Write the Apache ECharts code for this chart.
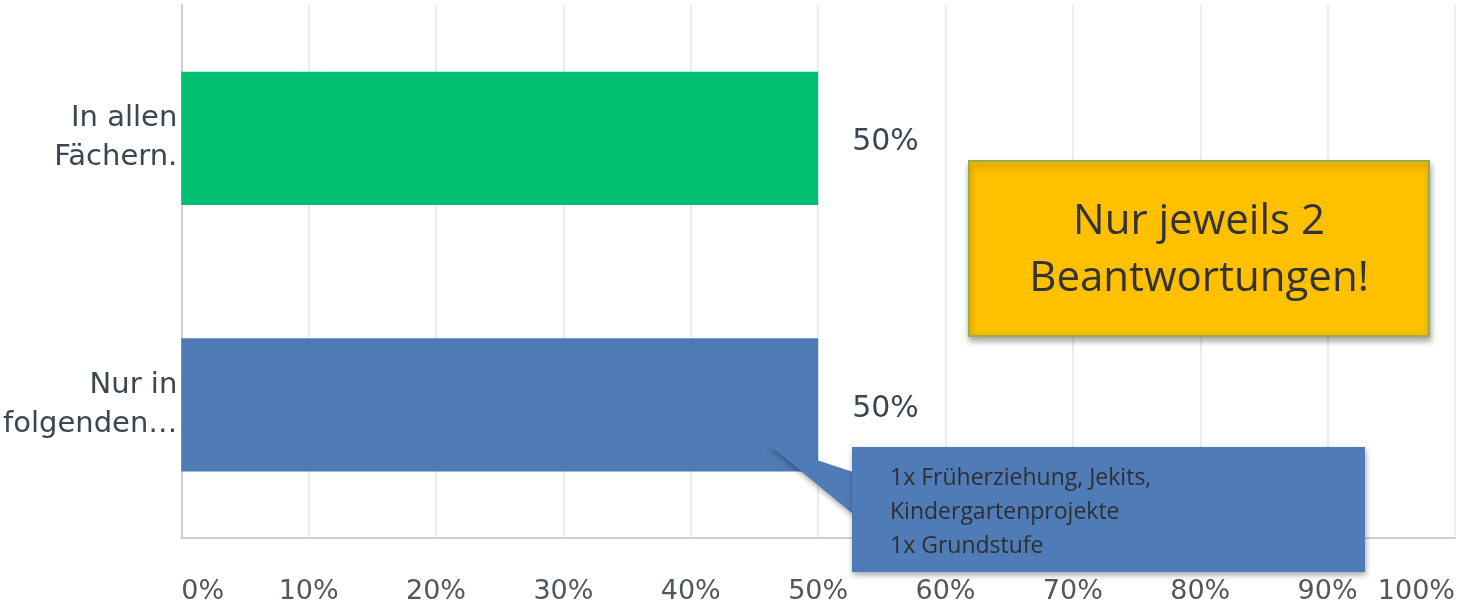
<!DOCTYPE html>
<html>
<head>
<meta charset="utf-8">
<script src="https://cdn.jsdelivr.net/npm/echarts@6/dist/echarts.min.js"></script>
<style>
html,body{margin:0;padding:0;background:#fff;}
#chart{width:1475px;height:605px;}
</style>
</head>
<body>
<div id="chart"></div>
<script>
const categories = ['In allen\nFächern.', 'Nur in\nfolgenden…'];
const values = [50, 50];
const barColors = ['#00BF6F', '#4E7BB4'];
const noteYellow = ['Nur jeweils 2', 'Beantwortungen!'];
const noteBlue = ['1x Früherziehung, Jekits,', 'Kindergartenprojekte', '1x Grundstufe'];

const chart = echarts.init(document.getElementById('chart'));
const option = {
  animation: false,
  backgroundColor: '#ffffff',
  grid: { left: 181, right: 20, top: 5, bottom: 65, containLabel: false },
  xAxis: {
    type: 'value', min: 0, max: 100, interval: 10,
    axisLine: { show: true, lineStyle: { color: '#cfcfcf', width: 2 } },
    axisTick: { show: false },
    splitLine: { show: true, lineStyle: { color: '#e6e6e6', width: 1.5 } },
    axisLabel: {
      formatter: '{value}%', margin: 40, color: '#50575f',
      fontFamily: 'DejaVu Sans', fontSize: 27,
      alignMinLabel: 'left', alignMaxLabel: 'right'
    }
  },
  yAxis: {
    type: 'category', data: categories, inverse: true,
    axisLine: { show: true, lineStyle: { color: '#cfcfcf', width: 2 } },
    axisTick: { show: false },
    axisLabel: {
      color: '#3c4650', fontFamily: 'DejaVu Sans', fontSize: 29, lineHeight: 39,
      margin: 4, align: 'right', verticalAlign: 'middle', padding: [16, 0, 0, 0]
    }
  },
  series: [{
    type: 'bar', barWidth: '50%',
    data: values.map((v, i) => ({ value: v, itemStyle: { color: barColors[i] } })),
    label: {
      show: true, position: 'right', distance: 34, offset: [0, 4],
      formatter: '{c}%', color: '#3c4650', fontFamily: 'DejaVu Sans', fontSize: 30
    }
  }],
  graphic: [
    {
      type: 'group', left: 968, top: 160, z: 100,
      children: [
        { type: 'rect', z: 100, shape: { x: 0, y: 0, width: 460, height: 175 },
          style: { fill: '#FFC000', stroke: '#8FB04A', lineWidth: 2,
                   shadowBlur: 6, shadowOffsetX: 1, shadowOffsetY: 4, shadowColor: 'rgba(0,0,0,0.35)' } },
        { type: 'text', z: 101, x: 230, y: 90,
          style: { text: noteYellow.join('\n'), textAlign: 'center', textVerticalAlign: 'middle',
                   font: '42px "Open Sans"', lineHeight: 57, fill: '#333333' } }
      ]
    },
    {
      type: 'polygon', z: 100, shape: { points: [[768, 444], [853, 472], [853, 514]] },
      style: { fill: '#4F7BB7', shadowBlur: 5, shadowOffsetY: 3, shadowColor: 'rgba(0,0,0,0.3)' }
    },
    {
      type: 'rect', z: 100, shape: { x: 852, y: 447, width: 513, height: 125 },
      style: { fill: '#4F7BB7', shadowBlur: 6, shadowOffsetX: 1, shadowOffsetY: 3, shadowColor: 'rgba(0,0,0,0.35)' }
    },
    {
      type: 'text', z: 101, x: 890, y: 461,
      style: { text: noteBlue.join('\n'), textAlign: 'left', textVerticalAlign: 'top',
               font: '23px "Open Sans"', lineHeight: 34, fill: '#2f2f2f' }
    }
  ]
};
chart.setOption(option);
</script>
</body>
</html>
